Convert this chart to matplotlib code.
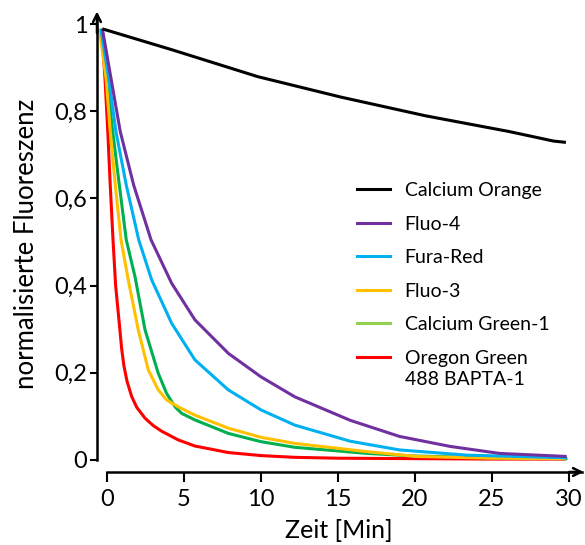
import matplotlib
matplotlib.use('Agg')
import matplotlib.pyplot as plt
from matplotlib.lines import Line2D

plt.rcParams['font.family'] = ['Lato', 'DejaVu Sans']

# data (time in min, normalised fluorescence)
t_orange = [-0.3, 4.3, 9.8, 15.2, 20.7, 26.1, 29.0, 29.8]
v_orange = [0.99, 0.941, 0.88, 0.833, 0.79, 0.754, 0.732, 0.729]

t_fluo4 = [-0.3, 0.26, 0.86, 1.73, 2.86, 4.2, 5.71, 7.88, 10.0, 12.2, 15.8, 19.0, 22.3, 25.5, 29.85]
v_fluo4 = [0.99, 0.876, 0.754, 0.631, 0.505, 0.405, 0.321, 0.244, 0.19, 0.144, 0.09, 0.053, 0.03, 0.014, 0.007]

t_fura = [-0.4, 0.11, 0.58, 1.25, 2.06, 2.9, 4.2, 5.71, 7.88, 10.0, 12.2, 15.8, 19.0, 23.4, 29.85]
v_fura = [0.99, 0.876, 0.754, 0.631, 0.505, 0.413, 0.313, 0.229, 0.16, 0.114, 0.079, 0.042, 0.022, 0.01, 0.004]

t_fluo3 = [-0.5, -0.06, 0.21, 0.54, 0.91, 1.38, 2.03, 2.68, 3.33, 3.87, 4.63, 5.71, 7.88, 10.0, 12.2, 16.9, 20.1, 25.0, 29.8]
v_fluo3 = [0.99, 0.876, 0.754, 0.631, 0.505, 0.413, 0.298, 0.206, 0.16, 0.137, 0.121, 0.102, 0.072, 0.051, 0.037, 0.018, 0.007, 0.003, 0.002]

t_green = [-0.45, 0.0, 0.37, 0.8, 1.25, 1.82, 2.47, 3.33, 3.87, 4.42, 4.85, 5.71, 7.88, 10.0, 12.2, 16.9, 20.0, 25.0, 29.9]
v_green = [0.99, 0.876, 0.754, 0.631, 0.505, 0.42, 0.298, 0.198, 0.152, 0.121, 0.106, 0.091, 0.06, 0.041, 0.028, 0.014, 0.008, 0.004, 0.002]

t_oregon = [-0.35, -0.13, 0.05, 0.21, 0.39, 0.56, 0.84, 0.95, 1.1, 1.3, 1.6, 1.93, 2.47, 3.0, 3.55, 4.63, 5.71, 7.88, 10.0, 12.2, 15.0, 20.0, 25.0, 29.8]
v_oregon = [0.99, 0.876, 0.754, 0.631, 0.505, 0.40, 0.297, 0.255, 0.215, 0.18, 0.145, 0.12, 0.095, 0.078, 0.065, 0.045, 0.031, 0.016, 0.009, 0.005, 0.003, 0.002, 0.001, 0.001]

labels = ['Calcium Orange', 'Fluo-4', 'Fura-Red', 'Fluo-3', 'Calcium Green-1', 'Oregon Green\n488 BAPTA-1']
colors = ['black', '#7030A0', '#00B0F0', '#FFC000', '#00B050', '#FF0000']
legend_colors = ['black', '#7030A0', '#00B0F0', '#FFC000', '#92D050', '#FF0000']

x_ticks = [0, 5, 10, 15, 20, 25, 30]
y_ticks = [0, 0.2, 0.4, 0.6, 0.8, 1]
y_ticklabels = ['0', '0,2', '0,4', '0,6', '0,8', '1']

W, H = 585, 545
fig = plt.figure(figsize=(W / 100, H / 100), dpi=100)
ax = fig.add_axes([90 / W, 1 - 480 / H, (W - 90) / W, 470 / H])

series = [(t_orange, v_orange), (t_fluo4, v_fluo4), (t_fura, v_fura),
          (t_fluo3, v_fluo3), (t_green, v_green), (t_oregon, v_oregon)]
# draw back to front so red sits on top
for (t, v), c in reversed(list(zip(series, colors))):
    ax.plot(t, v, color=c, lw=2.2, solid_capstyle='butt', solid_joinstyle='round')

ax.set_xlim(-1.104, 31.04)
ax.set_ylim(-0.0471, 1.0333)

# detached axes with arrow heads
for s in ['top', 'right']:
    ax.spines[s].set_visible(False)
ax.spines['left'].set_position(('data', -0.65))
ax.spines['bottom'].set_position(('data', -0.0287))
ax.spines['left'].set_bounds(0, 1.02)
ax.spines['bottom'].set_bounds(0, 30.85)
ax.spines['left'].set_linewidth(1.8)
ax.spines['bottom'].set_linewidth(1.8)
ax.annotate('', xy=(-0.65, 1.03), xytext=(-0.65, 0.98),
            arrowprops=dict(arrowstyle='->', lw=1.8, color='black',
                            mutation_scale=14, shrinkA=0, shrinkB=0))
ax.annotate('', xy=(30.95, -0.0287), xytext=(30.0, -0.0287),
            arrowprops=dict(arrowstyle='->', lw=1.8, color='black',
                            mutation_scale=14, shrinkA=0, shrinkB=0))

ax.set_xticks(x_ticks)
ax.set_xticklabels([str(x) for x in x_ticks])
ax.set_yticks(y_ticks)
ax.set_yticklabels(y_ticklabels)
ax.tick_params(axis='y', direction='out', length=5, width=1.5, pad=2, labelsize=17)
ax.tick_params(axis='x', direction='out', length=7, width=1.5, pad=5, labelsize=17)

ax.set_xlabel('Zeit [Min]', fontsize=18)
ax.xaxis.set_label_coords((339 - 90) / 495, -(530 - 480) / 470)
ax.set_ylabel('normalisierte Fluoreszenz', fontsize=18.5)
ax.yaxis.set_label_coords(-(90 - 27) / 495, (480 - 244) / 470)
ax.xaxis.label.set_va('center')
ax.yaxis.label.set_va('center')

handles = [Line2D([], [], color=c, lw=2.2) for c in legend_colors]
leg = ax.legend(handles, labels, loc='upper left', frameon=False, fontsize=14,
                bbox_to_anchor=(357 / W, 1 - 182 / H), bbox_transform=fig.transFigure,
                borderpad=0, borderaxespad=0, handlelength=1.7, handletextpad=0.75,
                labelspacing=0.85)
for txt in leg.get_texts():
    txt.set_linespacing(1.3)
# put the last handle next to the first line of its two-line label
last = leg.legend_handles[-1]
last.set_ydata([y + 8.5 for y in last.get_ydata()])

fig.savefig('out.png', dpi=100)
